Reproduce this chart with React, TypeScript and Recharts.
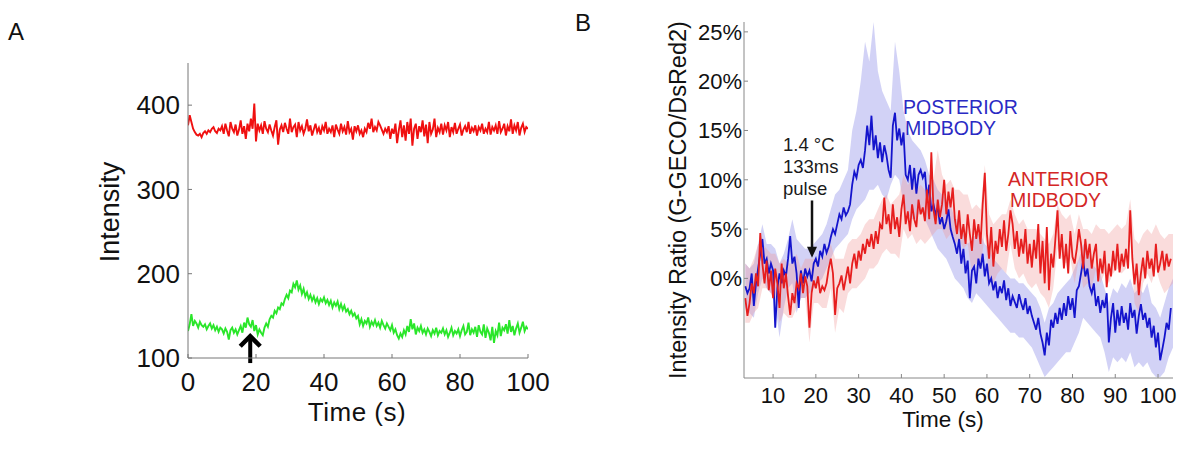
import { ComposedChart, Line, Area, XAxis, YAxis, ReferenceLine } from 'recharts';

// Panel A: raw intensities, sampled every 0.5 s from t = 0
const redIntensity = [
  376, 388, 380, 372, 368, 365, 364, 366, 362, 367,
  369, 366, 370, 368, 372, 374, 369, 367, 372, 370,
  375, 366, 378, 370, 363, 380, 372, 368, 377, 364,
  371, 382, 366, 375, 360, 378, 369, 384, 372, 402,
  357, 378, 370, 376, 366, 381, 372, 368, 377, 370,
  364, 374, 382, 353, 371, 376, 368, 379, 372, 366,
  384, 368, 374, 377, 362, 380, 370, 375, 366, 372,
  383, 369, 376, 364, 371, 378, 368, 373, 365, 375,
  370, 380, 366, 372, 368, 376, 362, 377, 371, 366,
  378, 369, 374, 365, 381, 368, 372, 359, 375, 369,
  376, 366, 370, 362, 372, 368, 379, 372, 384, 368,
  374, 370, 380, 376, 371, 366, 372, 368, 375, 360,
  372, 366, 378, 355, 370, 382, 362, 376, 358, 380,
  366, 384, 352, 372, 378, 360, 375, 368, 382, 363,
  377, 355, 380, 366, 371, 384, 362, 373, 368, 378,
  365, 376, 370, 380, 362, 374, 368, 379, 366, 372,
  377, 364, 371, 375, 368, 380, 366, 373, 369, 376,
  364, 374, 370, 378, 366, 372, 368, 380, 365, 374,
  370, 376, 366, 381, 368, 372, 378, 364, 375, 369,
  383, 366, 376, 370, 380, 364, 373, 378, 368, 374,
  372,
];

const greenIntensity = [
  132, 140, 152, 138, 144, 141, 136, 143, 139, 137,
  140, 134, 138, 141, 135, 139, 133, 137, 131, 136,
  134, 129, 135, 131, 122, 133, 136, 130, 134, 128,
  133, 138, 130, 142, 136, 148, 140, 137, 145, 132,
  139, 128, 134, 130, 127, 136, 141, 137, 146, 150,
  148, 156, 153, 160, 158, 165, 163, 170, 175, 171,
  180, 178, 188, 184, 192, 181, 186, 176, 182, 173,
  178, 170, 175, 168, 173, 166, 171, 164, 170, 167,
  172, 165, 169, 163, 168, 160, 166, 162, 167, 158,
  164, 157, 162, 155, 158, 152, 156, 150, 153, 147,
  150, 140, 146, 138, 144, 141, 148, 137, 143, 139,
  145, 138, 142, 136, 144, 139, 135, 141, 137, 133,
  139, 130, 134, 127, 123, 129, 125, 133, 128, 138,
  131, 146, 134, 141, 128, 136, 132, 138, 130, 134,
  128, 135, 131, 126, 133, 129, 136, 127, 132, 130,
  135, 128, 133, 125, 130, 136, 127, 132, 129, 134,
  126, 133, 138, 128, 131, 142, 127, 134, 130, 137,
  125, 139, 131, 128, 140, 124, 135, 130, 121, 137,
  118, 132, 127, 142, 126, 136, 133, 140, 129, 145,
  131, 138, 127, 135, 141, 130, 136, 143, 132, 137,
  134,
];

// Panel B: ratio (%), sampled every 0.5 s from t = 3.5
const posteriorMean = [
  -0.8, -1.5, -1.0, 0.5, -2.8, -0.5, 1.0, 2.5, 4.0, 1.5,
  2.0, 0.5, 1.5, 0.8, -5.0, -1.0, 0.5, -0.5, 0.8, 0.2,
  2.0, 4.3, 1.5, 2.2, 0.5, -3.0, 0.8, -0.5, 1.0, 0.2,
  0.8, -0.3, 1.5, 2.0, 1.2, 2.8, 2.2, 3.5, 2.6, 3.2,
  4.2, 5.0, 4.5, 5.5, 6.5, 6.0, 7.2, 6.4, 6.8, 7.5,
  9.5, 10.8, 10.2, 11.5, 12.0, 11.2, 13.0, 15.5, 13.5, 16.5,
  13.0, 14.5, 12.2, 13.8, 11.8, 13.5, 12.5, 11.0, 10.2, 15.5,
  16.8, 14.0, 15.2, 13.5, 14.8, 10.5, 10.0, 11.5, 9.0, 11.2,
  8.6, 10.5, 11.0, 10.2, 10.8, 8.0, 9.5, 6.8, 7.5, 6.5,
  7.2, 5.5, 6.2, 5.0, 5.8, 7.0, 5.0, 4.2, 3.5, 2.5,
  4.0, 1.5, 3.0, 0.5, 1.8, -2.0, 0.8, 1.2, -0.5, 2.0,
  1.0, 2.5, 0.2, 1.5, -0.5, 0.0, -1.2, -0.3, -2.0, -0.8,
  -1.5, -0.2, -2.2, -1.0, -2.8, -1.8, -2.4, -3.0, -1.6, -2.5,
  -3.2, -2.0, -3.6, -2.8, -3.8, -4.5, -5.2, -4.0, -5.6, -6.5,
  -7.8, -5.5, -6.8, -4.2, -5.0, -3.5, -4.6, -3.0, -4.2, -2.5,
  -3.8, -1.8, -3.2, -2.0, -4.0, -1.2, -0.8, 0.5, 1.8, 0.2,
  1.0, -0.8, -1.5, -0.5, -2.8, -1.8, -3.5, -2.2, -3.0, -1.5,
  -6.5, -4.0, -2.5, -5.5, -3.2, -4.8, -2.8, -4.5, -3.5, -5.2,
  -2.5, -4.0, -3.2, -5.6, -3.8, -2.6, -4.2, -3.5, -5.0, -4.0,
  -6.0, -4.8, -7.0, -5.5, -8.3, -7.2, -6.0, -4.5, -5.2, -3.0,
];

const anteriorMean = [
  -2.0, -3.8, -2.5, -0.5, -1.5, 0.5, -0.8, 4.6, 1.5, -0.5,
  1.8, -1.2, 0.8, -2.0, 1.0, -0.5, -3.0, 1.5, -1.0, 0.5,
  -1.8, -3.7, -1.5, -2.5, -0.5, -1.0, 0.5, -1.5, 0.2, -0.8,
  -5.0, -1.5, -0.2, -1.0, 0.2, -1.5, -0.8, -1.2, -0.5, 1.0,
  2.0, 0.5, -3.7, -1.0, -0.5, 0.3, -1.2, 0.0, 1.2, -0.5,
  1.5, 2.5, 1.0, 2.8, 1.8, 3.5, 2.5, 4.0, 3.2, 4.5,
  3.0, 4.8, 3.5, 5.5, 5.0, 8.2, 5.5, 6.5, 4.5, 7.5,
  5.0, 6.2, 4.2, 7.0, 8.5, 5.5, 6.8, 4.8, 7.5, 6.0,
  5.2, 8.0, 6.5, 7.2, 5.8, 9.0, 6.0, 12.8, 7.0, 5.5,
  8.0, 6.2, 7.5, 10.0, 6.5, 8.8, 7.2, 9.2, 6.0, 4.5,
  6.9, 4.0, 5.5, 3.5, 6.5, 4.5, 2.8, 6.0, 4.0, 5.5,
  3.5, 7.5, 10.7, 4.5, 2.0, 5.2, 1.2, 3.8, 2.5, 5.0,
  3.2, 5.9, 2.8, 4.5, 6.9, 5.5, 3.0, 4.8, 2.2, 4.0,
  2.5, 5.0, 1.5, 3.5, 1.1, 3.9, 2.0, 5.5, 0.5, 3.8,
  -0.5, 5.2, -1.2, 2.5, 1.1, 4.0, 6.9, 2.0, 4.5, 1.0,
  3.5, 0.5, 4.8, 2.2, 1.5, 3.0, 5.0, 3.5, 1.0, 4.0,
  2.0, 3.5, 1.0, 2.5, 3.5, -0.3, 2.0, 0.5, 2.8, -0.9,
  1.5, 0.2, 2.8, 0.8, 3.5, 0.6, 2.5, 1.2, 3.0, 1.0,
  6.9, 2.0, -0.6, 1.5, -1.7, 0.5, 2.1, 0.0, 2.8, 1.0,
  2.0, 0.2, 3.5, 0.6, 1.5, 2.8, 0.8, 2.5, 1.2, 2.0,
];

// shaded error bands, sampled every 1 s from t = 3.5
const posteriorHi = [
  1.5, 1.0, 1.5, 3.5, 5.5, 3.5, 3.5, 3.0, 1.5, 2.5,
  4.0, 6.0, 4.0, 3.5, 3.0, 3.0, 3.5, 4.0, 4.5, 5.5,
  7.0, 8.5, 9.0, 10.0, 11.0, 15.0, 17.0, 20.0, 24.0, 22.0,
  26.0, 21.0, 19.0, 18.0, 17.0, 24.0, 21.0, 17.0, 15.0, 14.0,
  13.5, 13.0, 12.0, 10.5, 10.0, 9.0, 8.5, 8.0, 7.5, 6.0,
  6.0, 4.5, 3.5, 4.0, 4.5, 4.5, 3.5, 3.0, 2.0, 1.5,
  1.0, 0.5, 0.0, 0.0, -0.5, -0.5, -1.0, -1.5, -2.0, -3.0,
  -4.5, -3.0, -2.5, -1.5, -1.0, -0.5, 0.0, 1.0, 2.0, 3.5,
  3.0, 1.5, 1.0, 0.5, -1.0, -2.5, -1.0, -1.5, -0.5, -1.0,
  0.0, -1.5, -1.0, -1.5, -0.5, -2.5, -3.0, -4.0, -2.5, -1.0,
  0.0,
];
const posteriorLo = [
  -3.0, -3.5, -4.0, -1.5, 0.0, -1.0, -1.5, -2.5, -6.0, -3.0,
  -1.0, -0.5, -3.5, -2.0, -2.0, -1.5, -1.0, -0.5, 0.0, 1.0,
  2.0, 3.0, 3.5, 4.0, 4.5, 6.0, 7.0, 7.5, 8.0, 9.0,
  9.0, 9.5, 8.5, 8.0, 9.5, 10.5, 10.0, 7.5, 6.5, 6.0,
  6.0, 7.0, 6.0, 5.0, 4.0, 3.0, 2.5, 2.0, 1.0, 0.0,
  -0.5, -1.0, -2.0, -2.5, -1.5, -2.0, -2.5, -3.0, -3.5, -4.0,
  -4.5, -5.0, -5.5, -5.5, -6.0, -6.0, -6.5, -7.0, -8.0, -9.0,
  -10.0, -9.5, -9.0, -8.5, -8.0, -7.5, -7.5, -6.5, -5.5, -4.0,
  -4.5, -5.0, -5.5, -6.0, -7.5, -9.5, -8.0, -8.5, -8.0, -8.5,
  -7.5, -9.0, -8.5, -9.0, -8.5, -9.5, -10.0, -10.0, -9.5, -8.0,
  -7.0,
];
const anteriorHi = [
  1.5, 1.0, 2.0, 3.5, 3.5, 3.0, 2.5, 2.5, 1.5, 2.0,
  1.5, 1.5, 2.5, 1.0, 2.0, 2.0, 2.0, 2.0, 2.0, 2.5,
  3.5, 2.0, 2.0, 2.0, 3.5, 4.0, 4.0, 4.5, 5.5, 6.0,
  6.0, 7.0, 8.0, 8.5, 7.5, 8.0, 8.5, 10.5, 9.5, 10.0,
  9.0, 9.5, 9.0, 9.5, 10.0, 13.0, 10.5, 9.5, 10.0, 9.0,
  9.0, 8.5, 8.5, 7.0, 7.5, 7.0, 11.5, 6.5, 5.5, 6.0,
  6.5, 6.5, 8.0, 6.5, 5.5, 6.0, 5.0, 5.0, 5.0, 4.5,
  4.0, 3.5, 4.5, 7.5, 6.5, 6.0, 6.5, 4.5, 6.5, 5.0,
  5.0, 4.5, 5.5, 5.0, 5.0, 4.5, 5.0, 5.5, 5.0, 5.5,
  8.0, 4.0, 3.5, 4.5, 5.0, 4.5, 5.5, 4.5, 4.0, 4.5,
  4.5,
];
const anteriorLo = [
  -4.5, -4.5, -3.5, -3.0, -1.0, -1.0, -1.5, -1.5, -4.5, -3.5,
  -4.0, -4.0, -3.0, -2.0, -2.0, -6.5, -2.5, -2.5, -3.0, -3.0,
  -1.0, -5.5, -3.0, -3.5, -1.5, -1.0, -1.0, -0.5, 0.0, 1.0,
  1.0, 1.5, 2.5, 3.0, 2.5, 2.5, 2.0, 5.0, 4.0, 4.5,
  3.5, 4.0, 3.5, 4.0, 4.5, 5.0, 5.0, 4.0, 4.5, 3.5,
  4.0, 3.0, 3.5, 0.5, 1.5, 1.0, 4.5, 0.0, -0.5, 0.5,
  1.0, 0.5, 3.5, 1.0, 0.0, 0.5, -0.5, -1.0, -0.5, -1.5,
  -2.0, -3.0, -1.0, 3.0, 2.0, 1.5, 2.0, -0.5, 2.0, -1.0,
  -0.5, -1.0, 1.0, -0.5, 0.5, -0.5, 0.5, 1.0, 0.5, 1.0,
  4.0, -2.5, -3.5, -0.5, 0.5, -0.5, 1.0, -0.5, -1.5, -1.0,
  -0.5,
];

const ticksAX = [0, 20, 40, 60, 80, 100];
const ticksAY = [100, 200, 300, 400];
const ticksBX = [10, 20, 30, 40, 50, 60, 70, 80, 90, 100];
const ticksBY = [0, 5, 10, 15, 20, 25];

const dataA = redIntensity.map((v, i) => ({ t: i * 0.5, red: v, green: greenIntensity[i] }));
const posteriorLine = posteriorMean.map((v, i) => ({ t: 3.5 + i * 0.5, v }));
const anteriorLine = anteriorMean.map((v, i) => ({ t: 3.5 + i * 0.5, v }));
const posteriorBand = posteriorHi.map((hi, i) => ({ t: 3.5 + i, range: [posteriorLo[i], hi] }));
const anteriorBand = anteriorHi.map((hi, i) => ({ t: 3.5 + i, range: [anteriorLo[i], hi] }));

const FONT = '"Liberation Sans", Arial, Helvetica, sans-serif';

const UpArrow = (p: any) => (
  <g>
    <line x1={p.x1} y1={p.y1} x2={p.x2} y2={p.y2 + 2} stroke="#000" strokeWidth={4} />
    <polyline
      points={`${p.x2 - 10},${p.y2 + 11} ${p.x2},${p.y2 + 1} ${p.x2 + 10},${p.y2 + 11}`}
      fill="none"
      stroke="#000"
      strokeWidth={4.5}
    />
  </g>
);

const DownArrow = (p: any) => (
  <g>
    <line x1={p.x1} y1={p.y1} x2={p.x2} y2={p.y2 - 8} stroke="#111" strokeWidth={2.5} />
    <polygon points={`${p.x2 - 5},${p.y2 - 11} ${p.x2 + 5},${p.y2 - 11} ${p.x2},${p.y2}`} fill="#111" />
  </g>
);

export default function App() {
  return (
    <div
      style={{
        position: 'absolute',
        left: 0,
        top: 0,
        width: 1200,
        height: 449,
        background: '#fff',
        overflow: 'hidden',
        fontFamily: FONT,
      }}
    >
      <div style={{ position: 'absolute', left: 0, top: 0 }}>
        <ComposedChart width={600} height={449} data={dataA} margin={{ top: 63, right: 72, bottom: 51, left: 128 }}>
          <XAxis
            dataKey="t"
            type="number"
            domain={[0, 100]}
            ticks={ticksAX}
            interval={0}
            height={40}
            allowDataOverflow
            stroke="#777"
            tickSize={-4}
            tickMargin={19}
            tick={{ fontSize: 26, fill: '#111', fontFamily: FONT }}
          />
          <YAxis
            type="number"
            domain={[100, 450]}
            ticks={ticksAY}
            interval={0}
            width={60}
            allowDataOverflow
            stroke="#777"
            tickSize={-4}
            tickMargin={12}
            tick={{ fontSize: 26, fill: '#111', fontFamily: FONT }}
          />
          <Line dataKey="red" type="linear" stroke="#f01010" strokeWidth={1.9} dot={false} isAnimationActive={false} />
          <Line dataKey="green" type="linear" stroke="#2ae62a" strokeWidth={1.9} dot={false} isAnimationActive={false} />
          <ReferenceLine
            segment={[{ x: 18.3, y: 94 }, { x: 18.3, y: 127 }]}
            ifOverflow="visible"
            shape={UpArrow}
          />
        </ComposedChart>
      </div>

      <div style={{ position: 'absolute', left: 600, top: 0 }}>
        <ComposedChart width={600} height={449} margin={{ top: 22, right: 27, bottom: 31, left: 84 }}>
          <XAxis
            dataKey="t"
            type="number"
            domain={[3.2, 103.5]}
            ticks={ticksBX}
            interval={0}
            height={40}
            allowDataOverflow
            stroke="#888"
            tickSize={-4}
            tickMargin={13}
            tick={{ fontSize: 22, fill: '#111', fontFamily: FONT }}
          />
          <YAxis
            type="number"
            domain={[-10.1, 26]}
            ticks={ticksBY}
            interval={0}
            width={60}
            allowDataOverflow
            stroke="#888"
            tickSize={-4}
            tickMargin={6}
            tickFormatter={(v: number) => `${v}%`}
            tick={{ fontSize: 22, fill: '#111', fontFamily: FONT }}
          />
          <Area
            data={posteriorBand}
            dataKey="range"
            type="linear"
            stroke="none"
            fill="#a6a6ee"
            fillOpacity={0.5}
            dot={false}
            activeDot={false}
            isAnimationActive={false}
          />
          <Area
            data={anteriorBand}
            dataKey="range"
            type="linear"
            stroke="none"
            fill="#f29a9a"
            fillOpacity={0.35}
            dot={false}
            activeDot={false}
            isAnimationActive={false}
          />
          <Line data={posteriorLine} dataKey="v" type="linear" stroke="#1414cc" strokeWidth={1.8} dot={false} isAnimationActive={false} />
          <Line data={anteriorLine} dataKey="v" type="linear" stroke="#e61e1e" strokeWidth={1.8} dot={false} isAnimationActive={false} />
          <ReferenceLine
            segment={[{ x: 19.1, y: 7.9 }, { x: 19.1, y: 2.1 }]}
            ifOverflow="visible"
            shape={DownArrow}
          />
        </ComposedChart>
      </div>

      <svg width={1200} height={449} style={{ position: 'absolute', left: 0, top: 0, pointerEvents: 'none' }}>
        <g fontFamily={FONT}>
          <text x={8} y={40} fontSize={24} fill="#111">A</text>
          <text x={575} y={31} fontSize={24} fill="#111">B</text>

          <text x={110} y={212} fontSize={27} fill="#111" textAnchor="middle" dominantBaseline="central" transform="rotate(-90 110 212)">
            Intensity
          </text>
          <text x={357} y={421} fontSize={26} fill="#111" textAnchor="middle" letterSpacing={0.5}>
            Time (s)
          </text>

          <text x={678} y={200} fontSize={23.5} fill="#111" textAnchor="middle" dominantBaseline="central" transform="rotate(-90 678 200)">
            Intensity Ratio (G-GECO/DsRed2)
          </text>
          <text x={943} y={427} fontSize={22.5} fill="#111" textAnchor="middle">
            Time (s)
          </text>

          <text x={903} y={114} fontSize={19.5} fill="#2a2ac4">POSTERIOR</text>
          <text x={905} y={135} fontSize={19.5} fill="#2a2ac4">MIDBODY</text>
          <text x={1008} y={186} fontSize={19.5} fill="#d42626">ANTERIOR</text>
          <text x={1010} y={207} fontSize={19.5} fill="#d42626">MIDBODY</text>

          <text x={783} y={151} fontSize={18.5} fill="#1a1a1a">1.4 °C</text>
          <text x={783} y={173} fontSize={18.5} fill="#1a1a1a">133ms</text>
          <text x={783} y={195} fontSize={18.5} fill="#1a1a1a">pulse</text>
        </g>
      </svg>
    </div>
  );
}
